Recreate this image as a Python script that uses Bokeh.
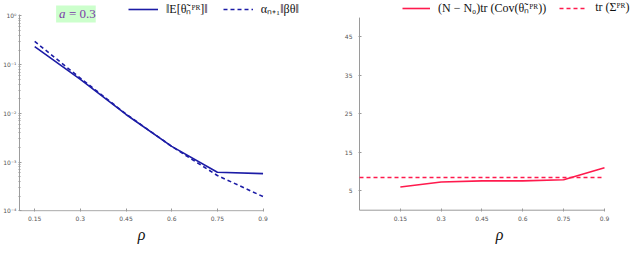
from bokeh.plotting import figure
from bokeh.models import Range1d, FixedTicker, Legend, LegendItem, Label, BoxAnnotation
from bokeh.layouts import row
from bokeh.embed import file_html
from bokeh.resources import INLINE

# ---------------- data ----------------
rho = [0.15, 0.3, 0.45, 0.6, 0.75, 0.9]
rho_labels = ["0.15", "0.3", "0.45", "0.6", "0.75", "0.9"]

bias_emp = [0.235, 0.050, 0.0095, 0.0021, 0.00062, 0.00058]
bias_theory = [0.30, 0.053, 0.0097, 0.0021, 0.00053, 0.000196]

var_emp = [6.0, 7.3, 7.6, 7.6, 7.9, 11.0]
var_theory_rho = [0.0, 0.15, 0.3, 0.45, 0.6, 0.75, 0.9]
var_theory = [8.5, 8.5, 8.5, 8.5, 8.5, 8.5, 8.5]

log_ticks = [0.0001, 0.001, 0.01, 0.1, 1]
log_tick_labels = ["10⁻⁴", "10⁻³", "10⁻²", "10⁻¹", "10⁰"]
var_ticks = [5, 15, 25, 35, 45]
var_tick_labels = ["5", "15", "25", "35", "45"]

legend_left = ["‖E[θ̃ₙᴾᴿ]‖", "αₙ₊₁‖βθ‖"]
legend_right = ["(N − N₀)tr (Cov(θ̃ₙᴾᴿ))", "tr (Σᴾᴿ)"]

BLUE = "#1c1ca6"
RED = "#ff1a4d"
AXIS = "#9a9a9a"
SERIF = "Liberation Serif"
NB = "\u00a0"


def style_axis(ax, standoff):
    ax.axis_line_color = None          # axis lines drawn as segments below
    ax.major_tick_line_color = AXIS
    ax.minor_tick_line_color = AXIS
    ax.major_tick_in = 3
    ax.major_tick_out = 0
    ax.minor_tick_in = 2
    ax.minor_tick_out = 0
    ax.major_label_text_font = "DejaVu Sans"
    ax.major_label_text_font_size = "6px"
    ax.major_label_text_color = "#555555"
    ax.major_label_standoff = standoff
    ax.axis_label_text_font = SERIF
    ax.axis_label_text_font_style = "italic"
    ax.axis_label_text_font_size = "16px"
    ax.axis_label_text_color = "#111111"
    ax.axis_label_standoff = 2


def style_legend(lg):
    lg.orientation = "horizontal"
    lg.border_line_alpha = 0
    lg.background_fill_alpha = 0
    lg.padding = 0
    lg.margin = 0
    lg.spacing = 15
    lg.glyph_width = 30
    lg.glyph_height = 12
    lg.label_standoff = 8
    lg.label_text_font = SERIF
    lg.label_text_font_size = "12px"
    lg.label_text_color = "#111111"


# ---------------- left panel ----------------
p1 = figure(width=320, height=253, x_range=Range1d(0.0968, 1.0887),
            y_range=Range1d(9.68e-5, 2.08), y_axis_type="log",
            output_backend="svg", toolbar_location=None,
            min_border_left=15, min_border_right=0,
            min_border_top=0, min_border_bottom=42)
p1.outline_line_color = None
p1.xgrid.visible = False
p1.ygrid.visible = False

# axis lines (left / bottom)
p1.segment(x0=[0.1, 0.1], y0=[0.0001, 0.0001], x1=[0.1, 0.9], y1=[1.07, 0.0001],
           line_color=AXIS, line_width=1)

r1 = p1.line(rho, bias_emp, line_color=BLUE, line_width=1.6)
r2 = p1.line(rho, bias_theory, line_color=BLUE, line_width=1.6, line_dash="4 3")

p1.xaxis.ticker = FixedTicker(ticks=rho)
p1.xaxis.major_label_overrides = {t: s for t, s in zip(rho, rho_labels)}
minor = [m * d for d in [0.0001, 0.001, 0.01, 0.1] for m in range(2, 10)]
p1.yaxis.ticker = FixedTicker(ticks=log_ticks, minor_ticks=minor)
p1.yaxis.major_label_overrides = {t: s for t, s in zip(log_ticks, log_tick_labels)}
style_axis(p1.xaxis[0], 4)
style_axis(p1.yaxis[0], 2)
p1.xaxis.minor_tick_line_color = None
p1.xaxis.axis_label = "ρ" + NB * 14

lg1 = Legend(items=[LegendItem(label=legend_left[0], renderers=[r1]),
                    LegendItem(label=legend_left[1], renderers=[r2])],
             location=(110, 194))
style_legend(lg1)
p1.add_layout(lg1)

# "a = 0.3" tag with light-green box
p1.add_layout(BoxAnnotation(left=0.2203, right=0.3505, bottom=0.7355, top=1.643,
                            fill_color="#ccffcc", fill_alpha=1.0, line_color=None))
p1.add_layout(Label(x=0.2301, y=1.1, text="a", text_font=SERIF,
                    text_font_style="italic", text_font_size="13px",
                    text_color="#7a3aa8", text_baseline="middle"))
p1.add_layout(Label(x=0.2627, y=1.1, text="= 0.3", text_font=SERIF,
                    text_font_size="13px",
                    text_color="#7a3aa8", text_baseline="middle"))

# ---------------- right panel ----------------
p2 = figure(width=320, height=253, x_range=Range1d(-0.0037, 1.0323),
            y_range=Range1d(-0.34, 54.44),
            output_backend="svg", toolbar_location=None,
            min_border_left=38, min_border_right=0,
            min_border_top=0, min_border_bottom=41)
p2.outline_line_color = None
p2.xgrid.visible = False
p2.ygrid.visible = False

p2.segment(x0=[0.0, 0.0], y0=[0.0, 0.0], x1=[0.0, 0.9], y1=[50.0, 0.0],
           line_color=AXIS, line_width=1)

r3 = p2.line(rho, var_emp, line_color=RED, line_width=1.6)
r4 = p2.line(var_theory_rho, var_theory, line_color=RED, line_width=1.6, line_dash="4 3")

p2.xaxis.ticker = FixedTicker(ticks=rho)
p2.xaxis.major_label_overrides = {t: s for t, s in zip(rho, rho_labels)}
p2.yaxis.ticker = FixedTicker(ticks=var_ticks)
p2.yaxis.major_label_overrides = {t: s for t, s in zip(var_ticks, var_tick_labels)}
style_axis(p2.xaxis[0], 4)
style_axis(p2.yaxis[0], 6)
p2.xaxis.minor_tick_line_color = None
p2.yaxis.minor_tick_line_color = None
p2.xaxis.axis_label = "ρ"

lg2 = Legend(items=[LegendItem(label=legend_right[0], renderers=[r3]),
                    LegendItem(label=legend_right[1], renderers=[r4])],
             location=(44, 195))
style_legend(lg2)
lg2.glyph_width = 28
lg2.spacing = 13
p2.add_layout(lg2)

layout = row(p1, p2)
open("out.html", "w").write(file_html(layout, INLINE))
